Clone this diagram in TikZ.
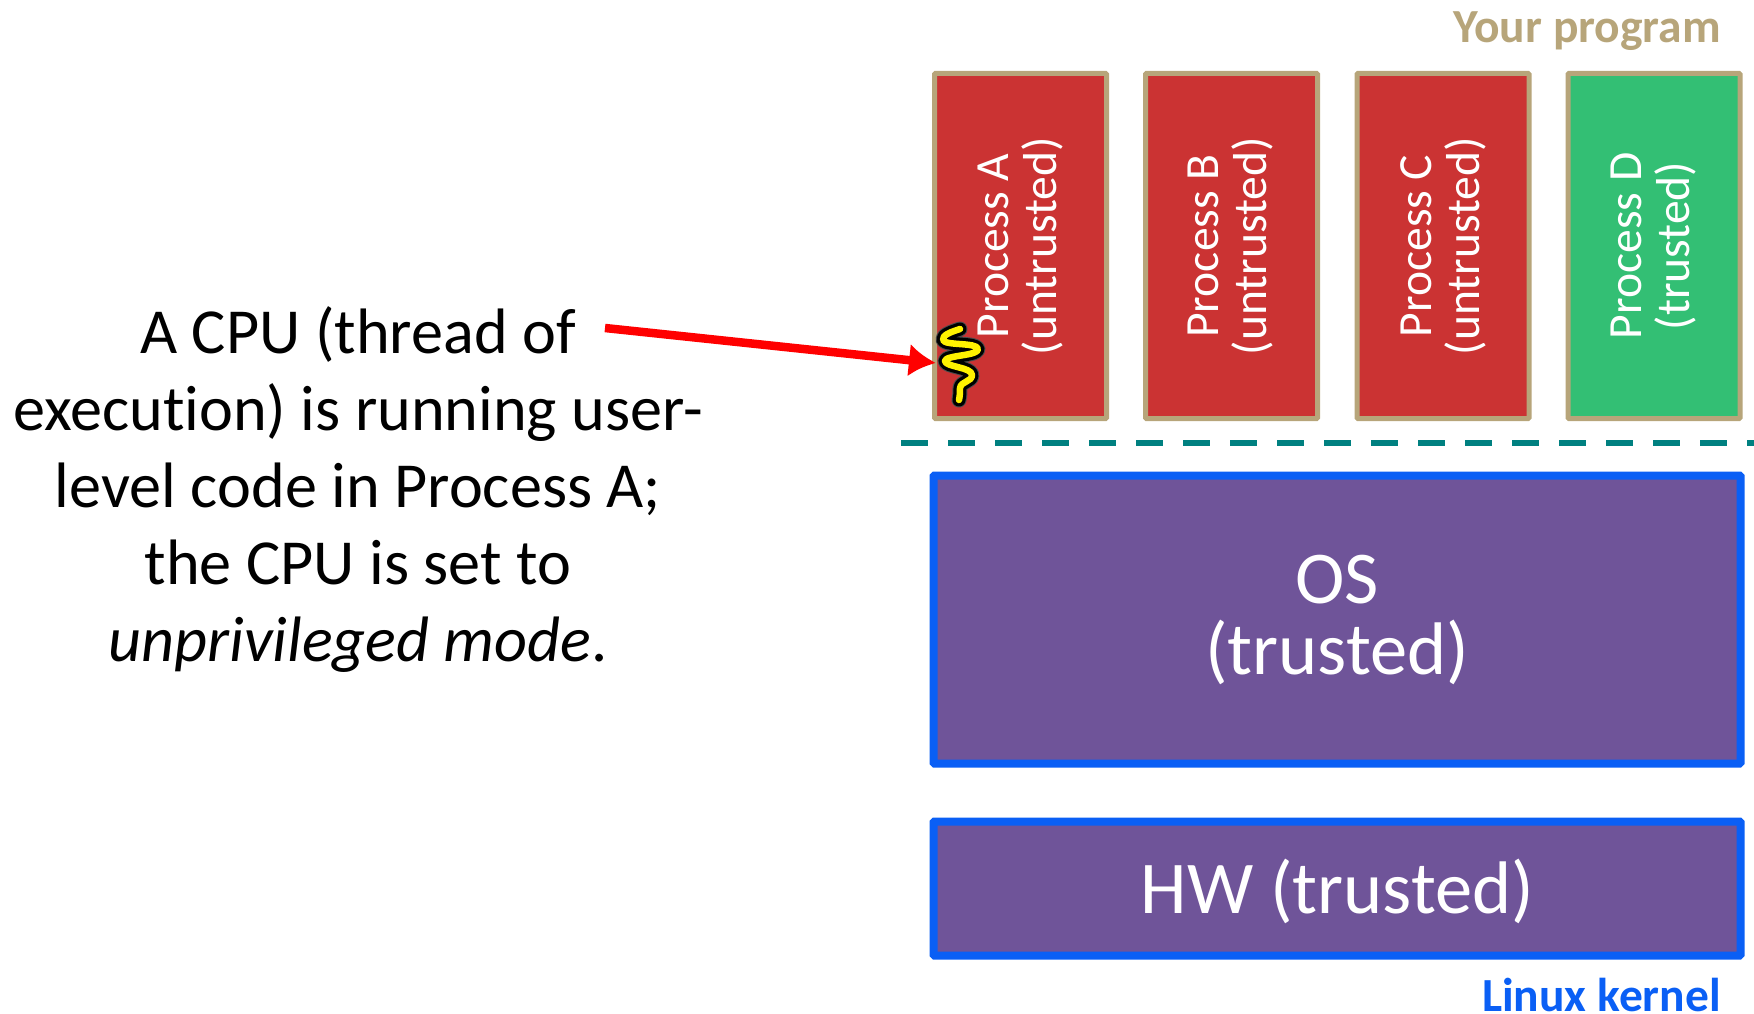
\documentclass[tikz,border=0pt]{standalone}
\usepackage{fontspec}
\setmainfont{Carlito}[Ligatures=CommonOff]
\usetikzlibrary{arrows.meta}
\definecolor{tan}{HTML}{B7A57A}
\definecolor{redbox}{HTML}{CB3333}
\definecolor{greenbox}{HTML}{33BF74}
\definecolor{purplebox}{HTML}{6F5499}
\definecolor{bluebd}{HTML}{0A5FF5}
\definecolor{teal}{HTML}{008080}
\tikzset{
 procbox/.style={draw=tan,line width=5pt,rounded corners=1pt,minimum width=172pt,minimum height=345pt,inner sep=0pt,text=white},
 proctext/.style={text=white,font=\fontsize{47.6}{48}\selectfont,align=center,rotate=90,inner sep=0pt},
 osbox/.style={draw=bluebd,line width=8pt,fill=purplebox,rounded corners=1pt,minimum width=807pt,inner sep=0pt,text=white,align=center},
 sidelabel/.style={font=\bfseries\fontsize{47.5}{50}\selectfont,inner sep=0pt,anchor=base east},
}
\begin{document}
\begin{tikzpicture}[x=1pt,y=-1pt]
\useasboundingbox (0,0) rectangle (1754,1014);
\node[procbox,fill=redbox] (pa) at (1020.5,246) {};
\node[procbox,fill=redbox] (pb) at (1231.5,246) {};
\node[procbox,fill=redbox] (pc) at (1443,246) {};
\node[procbox,fill=greenbox] (pd) at (1654,246) {};
\node[proctext] (ta) at (1020.5,246) {Process A\\(untrusted)};
\node[proctext] (tb) at (1231,246) {Process B\\(untrusted)};
\node[proctext] (tc) at (1443,246) {Process C\\(untrusted)};
\node[proctext] (td) at (1654,246) {Process D\\(trusted)};
\node[sidelabel,text=tan] (yp) at (1721,43) {Your program};
\node[sidelabel,text=bluebd] (lk) at (1721,1011) {Linux kernel};
\coordinate (dl) at (901,443);
\coordinate (dr) at (1754,443);
\draw[teal,line width=6pt,dash pattern=on 27pt off 20pt] (dl) -- (dr);
\node[osbox,minimum height=288pt,font=\fontsize{74.5}{71}\selectfont] (os) at (1337,619.5) {OS\\(trusted)};
\node[osbox,minimum height=134pt,font=\fontsize{74.5}{71}\selectfont] (hw) at (1337,888.5) {};
\node[text=white,font=\fontsize{74.5}{71}\selectfont,inner sep=0pt] (hwt) at (1337.5,891) {HW (trusted)};
\node[font=\fontsize{64.2}{77}\selectfont,align=center,inner sep=0pt] (desc) at (358,490) {A CPU (thread of\\execution) is running user-\\level code in Process A;\\the CPU is set to\\\textit{unprivileged mode}.};
\coordinate (as) at (605,328);
\coordinate (thread) at (936,363);
\draw[red,line width=8.5pt,-{Latex[length=27pt,width=33pt]}] (as) -- (thread);
\def\squig{(960,329) .. controls (951,332) and (942,335) .. (943,340) .. controls (945,346) and (977,342) .. (978,349) .. controls (979,356) and (945,355) .. (945,361) .. controls (945,367) and (972,367) .. (972,375) .. controls (972,382) and (961,381) .. (960,388) .. controls (960,392) and (960,395) .. (959,400)}
\draw[black!70,line width=15pt,line cap=round,line join=round] \squig;
\draw[black,line width=13pt,line cap=round,line join=round] \squig;
\draw[yellow,line width=6.5pt,line cap=round,line join=round] \squig;
\end{tikzpicture}
\end{document}
